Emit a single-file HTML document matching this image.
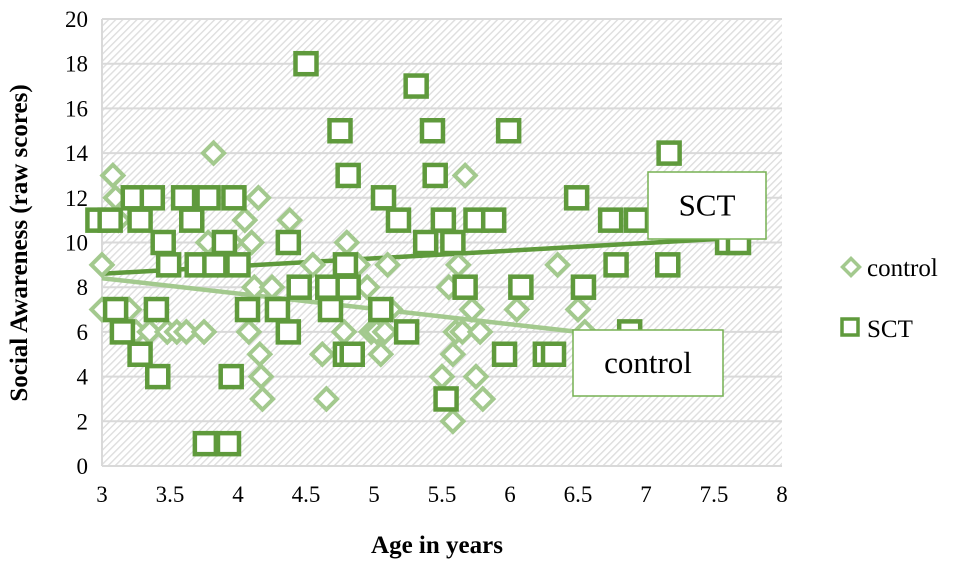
<!DOCTYPE html>
<html><head><meta charset="utf-8"><style>
body{margin:0;background:#fff;}
svg, svg text{font-family:"Liberation Serif","Times New Roman",serif !important;}
</style></head><body>
<svg id="chart" width="969" height="562" viewBox="0 0 969 562" font-family="Liberation Serif, serif">
<defs>
<pattern id="hatch" width="5" height="5" patternUnits="userSpaceOnUse" patternTransform="rotate(45)">
<rect width="5" height="5" fill="#fff"/>
<rect width="1.4" height="5" fill="#dedede"/>
</pattern>
</defs>
<rect x="102" y="19" width="680" height="447" fill="url(#hatch)"/>
<g id="grid"></g>
<g id="axes"></g>
<g id="trends"></g>
<g id="ctrl"></g>
<g id="sct"></g>
<g id="labels"></g>
<text x="437" y="553" text-anchor="middle" font-size="25" font-weight="bold">Age in years</text>
<text transform="translate(27,243) rotate(-90)" text-anchor="middle" font-size="25" font-weight="bold">Social Awareness (raw scores)</text>
<g>
<rect x="845" y="261" width="12" height="12" transform="rotate(45 851 267)" fill="#fff" stroke="#a3c98e" stroke-width="3.5"/>
<text x="867" y="276" font-size="25">control</text>
<rect x="842" y="319" width="16" height="16" fill="#fff" stroke="#5f9a3c" stroke-width="3.5"/>
<text x="867" y="337" font-size="25">SCT</text>
</g>
</svg>
<script>
const xTicks=[3,3.5,4,4.5,5,5.5,6,6.5,7,7.5,8];
const yTicks=[0,2,4,6,8,10,12,14,16,18,20];
const sctX=[2.97,3.06,3.1,3.15,3.23,3.28,3.28,3.37,3.4,3.41,3.45,3.49,3.6,3.66,3.7,3.76,3.78,3.83,3.9,3.93,3.95,3.97,4.0,4.07,4.29,4.37,4.37,4.45,4.5,4.66,4.68,4.75,4.79,4.81,4.81,4.79,4.84,5.07,5.05,5.18,5.24,5.31,5.38,5.43,5.45,5.51,5.53,5.58,5.67,5.75,5.88,5.96,5.99,6.08,6.26,6.32,6.49,6.54,6.74,6.78,6.88,6.93,7.16,7.17,7.6,7.68];
const sctY=[11,11,7,6,12,5,11,12,7,4,10,9,12,11,9,1,12,9,10,1,4,12,9,7,7,10,6,8,18,8,7,15,9,8,13,5,5,12,7,11,6,17,10,15,13,11,3,10,8,11,11,5,15,8,5,5,12,8,11,9,6,11,9,14,10,10];
const ctrlX=[3.0,3.0,3.08,3.1,3.12,3.15,3.2,3.25,3.35,3.4,3.48,3.55,3.62,3.75,3.78,3.82,3.85,3.95,4.05,4.1,4.08,4.12,4.15,4.16,4.17,4.18,4.25,4.38,4.55,4.62,4.65,4.78,4.8,4.88,4.95,4.98,5.02,5.05,5.08,5.1,5.12,5.5,5.55,5.58,5.58,5.6,5.62,5.65,5.67,5.72,5.75,5.78,5.8,6.05,6.35,6.5,6.55,6.9];
const ctrlY=[9,7,13,12,11,7,7,6,6,7,6,6,6,6,10,14,9,10,11,10,6,8,12,5,4,3,8,11,9,5,3,6,10,9,8,6,6,5,6,9,7,4,8,2,5,6,9,6,13,7,4,6,3,7,9,7,6,5];
const sctTrend=[7.57,0.344,3,7.65];   // intercept, slope, xStart, xEnd
const ctrlTrend=[10.46,-0.686,3,6.5];
const X=v=>102+(v-3)*136, Y=v=>466-v*22.35;
const NS="http://www.w3.org/2000/svg";
function mk(tag,attrs,parent){const e=document.createElementNS(NS,tag);for(const k in attrs)e.setAttribute(k,attrs[k]);document.getElementById(parent).appendChild(e);return e;}
yTicks.forEach(t=>{
 const l=mk('line',{x1:102,x2:782,y1:Y(t),y2:Y(t),stroke:'#d9d9d9','stroke-width':2},'grid');
 
 
 const tx=mk('text',{x:88,y:Y(t)+8,'text-anchor':'end','font-size':23},'axes');tx.textContent=t;
 
 
});
xTicks.forEach(t=>{
 const tx=mk('text',{x:X(t),y:502,'text-anchor':'middle','font-size':23},'axes');tx.textContent=t;
 
 
});
const va=mk('line',{x1:102,x2:102,y1:19,y2:466,stroke:'#d9d9d9','stroke-width':2},'axes');


ctrlX.forEach((x,i)=>{
 const cx=X(x),cy=Y(ctrlY[i]);
 const d=mk('rect',{x:cx-7.5,y:cy-7.5,width:15,height:15,transform:`rotate(45 ${cx} ${cy})`,fill:'#fff',stroke:'#a3c98e','stroke-width':4},'ctrl');
 
 
});
sctX.forEach((x,i)=>{
 const cx=X(x),cy=Y(sctY[i]);
 const s=mk('rect',{x:cx-10.5,y:cy-10.5,width:21,height:21,fill:'#fff',stroke:'#5f9a3c','stroke-width':4.5},'sct');
 
 
});
[[ctrlTrend,'#a3c98e','control-trendline'],[sctTrend,'#5f9a3c','sct-trendline']].forEach(([t,c,n])=>{
 const l=mk('line',{x1:X(t[2]),y1:Y(t[0]+t[1]*t[2]),x2:X(t[3]),y2:Y(t[0]+t[1]*t[3]),stroke:c,'stroke-width':4.5},'trends');
 
 
});
function label(x,y,w,h,txt,name){
 const r=mk('rect',{x:x,y:y,width:w,height:h,fill:'#fff',stroke:'#76b152','stroke-width':1.5},'labels');
 
 
 const t=mk('text',{x:x+w/2,y:y+h/2+10,'text-anchor':'middle','font-size':31},'labels');t.textContent=txt;
 
 
}
label(648,172,118,67,'SCT','sct-trend-label');
label(573,330,150,66,'control','control-trend-label');
</script>
</body></html>
